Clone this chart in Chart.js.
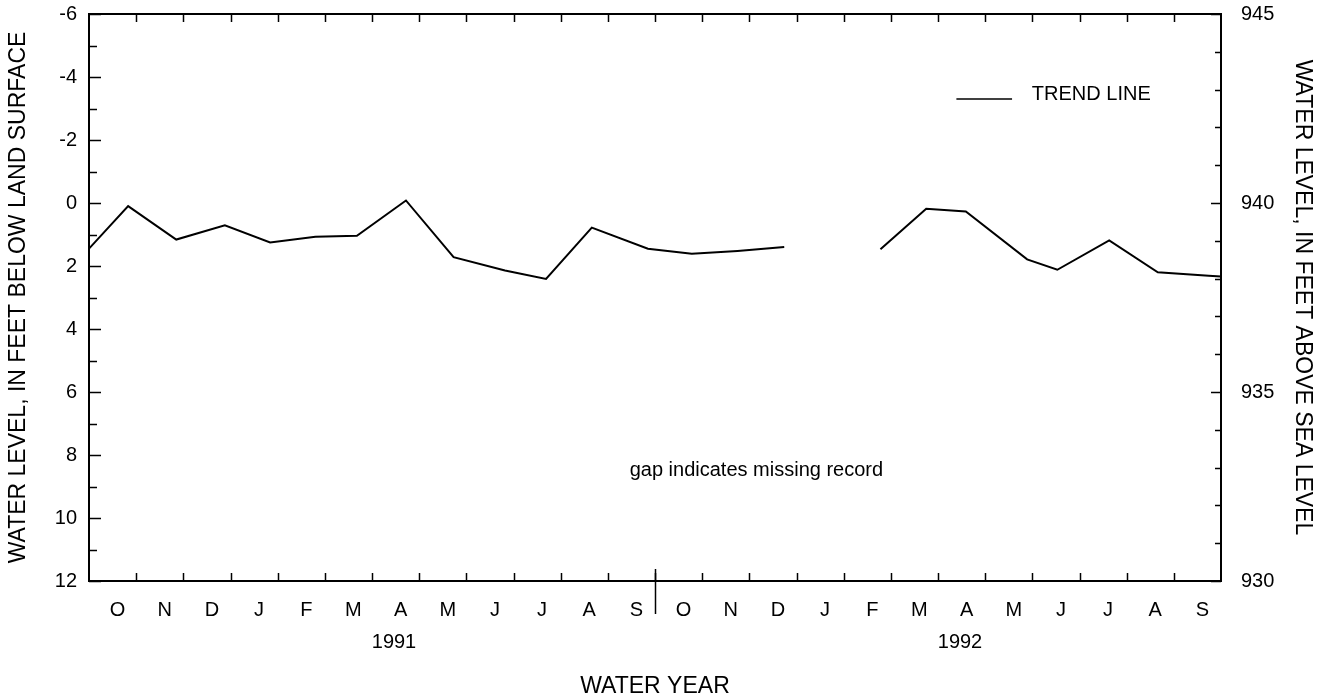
<!DOCTYPE html>
<html>
<head>
<meta charset="utf-8">
<title>Water level, water years 1991-1992</title>
<script src="https://cdn.jsdelivr.net/npm/chart.js@4/dist/chart.umd.min.js"></script>
<style>
    body { margin: 0; background: #fff; }
    #wrap { width: 1330px; height: 700px; }
</style>
</head>
<body>
<div id="wrap"><canvas id="levelChart" width="1330" height="700"></canvas></div>
<script>
// month letters along the bottom, two water years (Oct - Sep)
var monthLabels = ['O', 'N', 'D', 'J', 'F', 'M', 'A', 'M', 'J', 'J', 'A', 'S',
                   'O', 'N', 'D', 'J', 'F', 'M', 'A', 'M', 'J', 'J', 'A', 'S'];
var yearLabels = ['1991', '1992'];

// measurement time, in months since Oct 1 1990
var sampleMonth = [0, 0.83, 1.85, 2.88, 3.84, 4.80, 5.68, 6.72, 7.73, 8.82, 9.69, 10.66,
                   11.85, 12.78, 13.75, 14.74, 15.75, 16.78, 17.75, 18.59, 19.89, 20.53,
                   21.63, 22.66, 23.74, 24.0];
// depth to water, feet below land surface (null = missing record)
var depthFeet = [1.45, 0.10, 1.16, 0.71, 1.25, 1.07, 1.04, -0.08, 1.72, 2.14, 2.41, 0.78,
                 1.45, 1.61, 1.52, 1.40, null, 1.47, 0.18, 0.27, 1.79, 2.12,
                 1.19, 2.20, 2.31, 2.33];

var depthTicks = [-6, -4, -2, 0, 2, 4, 6, 8, 10, 12];
var elevationTicks = [930, 935, 940, 945];

var FONT = "'Liberation Sans', Arial, Helvetica, sans-serif";

// frame, inward tick marks, legend and note
var framePlugin = {
    id: 'framePlugin',
    afterDraw: function (chart) {
        var ctx = chart.ctx;
        var a = chart.chartArea;
        var xd = chart.scales.xd;
        var y = chart.scales.y;
        var y2 = chart.scales.y2;

        ctx.save();
        ctx.strokeStyle = '#000';
        ctx.lineWidth = 2;
        ctx.strokeRect(a.left, a.top, a.right - a.left, a.bottom - a.top);

        ctx.lineWidth = 1.5;
        ctx.beginPath();
        // month boundaries, top and bottom
        for (var m = 1; m < monthLabels.length; m++) {
            var px = Math.round(xd.getPixelForValue(m)) + 0.5;
            ctx.moveTo(px, a.bottom);
            ctx.lineTo(px, a.bottom - 8);
            ctx.moveTo(px, a.top);
            ctx.lineTo(px, a.top + 8);
        }
        // left axis, every foot
        for (var v = y.min; v <= y.max; v++) {
            var py = Math.round(y.getPixelForValue(v)) + 0.5;
            ctx.moveTo(a.left, py);
            ctx.lineTo(a.left + (v % 2 === 0 ? 12 : 8), py);
        }
        // right axis, every foot
        for (var e = y2.min; e <= y2.max; e++) {
            var py2 = Math.round(y2.getPixelForValue(e)) + 0.5;
            ctx.moveTo(a.right, py2);
            ctx.lineTo(a.right - (e % 5 === 0 ? 10 : 6), py2);
        }
        ctx.stroke();

        // water year divider
        var yx = Math.round(xd.getPixelForValue(12)) + 0.5;
        ctx.beginPath();
        ctx.moveTo(yx, a.bottom - 12);
        ctx.lineTo(yx, a.bottom + 33);
        ctx.stroke();

        // legend
        ctx.lineWidth = 1.5;
        ctx.beginPath();
        ctx.moveTo(xd.getPixelForValue(18.39), y.getPixelForValue(-3.3));
        ctx.lineTo(xd.getPixelForValue(19.57), y.getPixelForValue(-3.3));
        ctx.stroke();

        ctx.fillStyle = '#000';
        ctx.font = '20px ' + FONT;
        ctx.textBaseline = 'middle';
        ctx.textAlign = 'left';
        ctx.fillText('TREND LINE', xd.getPixelForValue(19.99), y.getPixelForValue(-3.45));

        ctx.textAlign = 'center';
        ctx.fillText('gap indicates missing record', xd.getPixelForValue(14.15), y.getPixelForValue(8.5));
        ctx.restore();
    }
};

// keep the end labels of a vertical axis from pushing the plot area in
function noEndPadding(axis) {
    axis.paddingTop = 0;
    axis.paddingBottom = 0;
}

window.onload = function () {
    var points = sampleMonth.map(function (m, i) {
        return { x: m, y: depthFeet[i] };
    });

    var ctx = document.getElementById('levelChart').getContext('2d');
    new Chart(ctx, {
        type: 'line',
        data: {
            datasets: [{
                label: 'TREND LINE',
                data: points,
                xAxisID: 'xd',
                yAxisID: 'y',
                borderColor: '#000',
                borderWidth: 2,
                pointRadius: 0,
                tension: 0,
                spanGaps: false,
                fill: false
            }]
        },
        options: {
            responsive: false,
            animation: false,
            layout: { padding: { top: 14, left: 0, right: 0, bottom: 0 } },
            plugins: {
                legend: { display: false },
                tooltip: { enabled: false }
            },
            scales: {
                // data position axis (hidden)
                xd: {
                    type: 'linear',
                    display: false,
                    min: 0,
                    max: 24
                },
                x: {
                    type: 'category',
                    position: 'bottom',
                    labels: monthLabels,
                    offset: true,
                    grid: { display: false },
                    border: { display: false },
                    ticks: {
                        autoSkip: false,
                        maxRotation: 0,
                        padding: 9,
                        labelOffset: 5,
                        color: '#000',
                        font: { family: FONT, size: 20 }
                    },
                    afterFit: function (axis) { axis.height = 40; }
                },
                year: {
                    type: 'category',
                    position: 'bottom',
                    labels: yearLabels,
                    offset: true,
                    grid: { display: false },
                    border: { display: false },
                    ticks: {
                        autoSkip: false,
                        maxRotation: 0,
                        padding: 1,
                        labelOffset: 22,
                        color: '#000',
                        font: { family: FONT, size: 20 }
                    },
                    title: {
                        display: true,
                        text: 'WATER YEAR',
                        color: '#000',
                        padding: { top: 0, bottom: 0 },
                        font: { family: FONT, size: 23 }
                    },
                    afterFit: function (axis) { axis.height = 79; }
                },
                y: {
                    type: 'linear',
                    position: 'left',
                    reverse: true,
                    min: -6,
                    max: 12,
                    grid: { display: false },
                    border: { display: false },
                    afterBuildTicks: function (axis) {
                        axis.ticks = depthTicks.map(function (v) { return { value: v }; });
                    },
                    ticks: {
                        padding: 4,
                        color: '#000',
                        font: { family: FONT, size: 20 }
                    },
                    title: {
                        display: true,
                        text: 'WATER LEVEL, IN FEET BELOW LAND SURFACE',
                        color: '#000',
                        padding: { top: 5, bottom: 0 },
                        font: { family: FONT, size: 23 }
                    },
                    afterFit: function (axis) {
                        axis.width = 89;
                        noEndPadding(axis);
                    }
                },
                y2: {
                    type: 'linear',
                    position: 'right',
                    min: 930,
                    max: 945,
                    grid: { display: false },
                    border: { display: false },
                    afterBuildTicks: function (axis) {
                        axis.ticks = elevationTicks.map(function (v) { return { value: v }; });
                    },
                    ticks: {
                        padding: 12,
                        color: '#000',
                        font: { family: FONT, size: 20 }
                    },
                    title: {
                        display: true,
                        text: 'WATER LEVEL, IN FEET ABOVE SEA LEVEL',
                        color: '#000',
                        padding: { top: 14, bottom: 0 },
                        font: { family: FONT, size: 23 }
                    },
                    afterFit: function (axis) {
                        axis.width = 109;
                        noEndPadding(axis);
                    }
                }
            }
        },
        plugins: [framePlugin]
    });
};
</script>
</body>
</html>
